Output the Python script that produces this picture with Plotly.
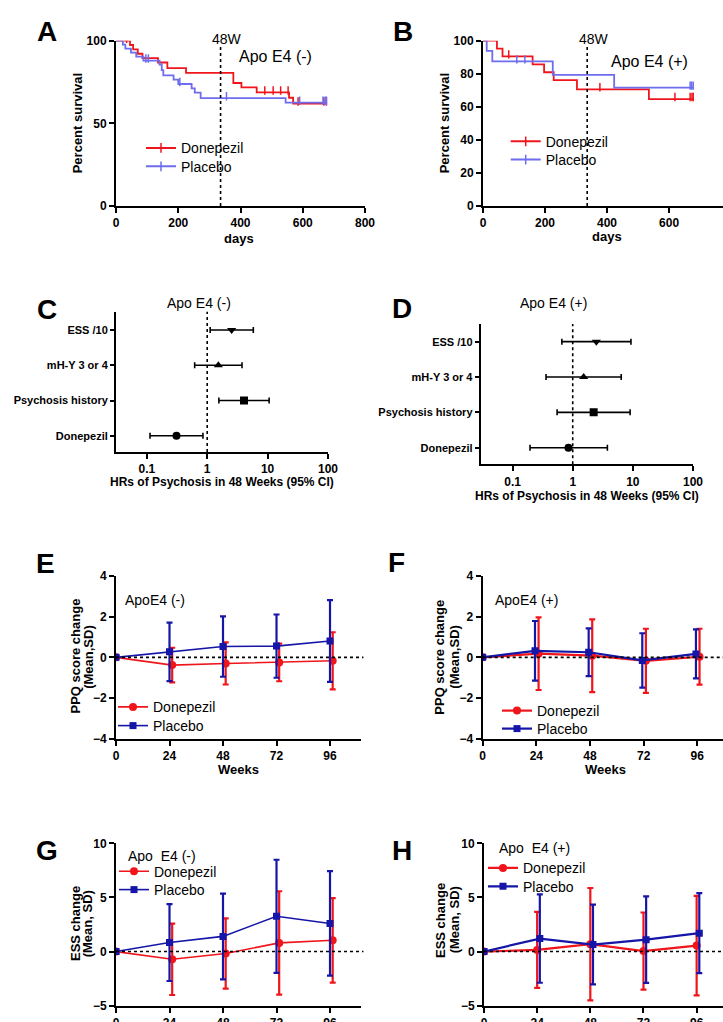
import plotly.graph_objects as go

W, H = 723, 1022
FONT = "Arial, 'Liberation Sans', sans-serif"

# ---------------- DATA ----------------
# Panel A: Kaplan-Meier, Apo E4 (-)
a_don_days = [0, 45, 55, 70, 85, 135, 165, 225, 377, 403, 452, 556, 569, 676]
a_don_pct = [100, 97.4, 94.7, 92.1, 89.5, 86.8, 83.4, 80.5, 74.4, 71.8, 68.7, 65.5, 62.0, 62.0]
a_don_cens = [34, 478, 505, 529, 553, 585, 668, 676]
a_pla_days = [0, 22, 30, 48, 65, 88, 140, 147, 152, 185, 200, 243, 253, 272, 545, 676]
a_pla_pct = [100, 97.6, 95.2, 92.8, 90.4, 88.0, 85.6, 82.2, 79.0, 76.4, 73.8, 71.2, 68.6, 65.2, 62.5, 62.5]
a_pla_cens = [96, 104, 205, 355, 590, 665, 672, 676]

# Panel B: Kaplan-Meier, Apo E4 (+)
b_don_days = [0, 45, 63, 160, 197, 228, 303, 535, 678]
b_don_pct = [100, 95.2, 90.5, 85.7, 80.9, 76.2, 70.6, 64.7, 64.7]
b_don_cens = [83, 377, 619, 668, 674, 678]
b_pla_days = [0, 12, 30, 225, 423, 678]
b_pla_pct = [100, 93.8, 87.5, 79.3, 71.6, 71.6]
b_pla_cens = [109, 135, 668, 673, 678]

week48_day = 336

# Panels C/D: hazard ratios
hr_labels = ["Donepezil", "Psychosis history", "mH-Y 3 or 4", "ESS /10"]
hr_symbols = ["circle", "square", "triangle-up", "triangle-down"]
c_hr = [0.31, 4.07, 1.53, 2.54]
c_lo = [0.113, 1.56, 0.62, 1.12]
c_hi = [0.85, 10.6, 3.77, 5.8]
d_hr = [0.85, 2.23, 1.52, 2.47]
d_lo = [0.195, 0.55, 0.36, 0.66]
d_hi = [3.77, 9.0, 6.4, 9.3]

# Panels E-H: change over weeks (mean, SD)
weeks = [0, 24, 48, 72, 96]
e_don_mean = [0, -0.38, -0.30, -0.25, -0.17]
e_don_sd = [None, 0.85, 1.03, 0.92, 1.40]
e_pla_mean = [0, 0.27, 0.53, 0.55, 0.80]
e_pla_sd = [None, 1.43, 1.48, 1.55, 2.00]

f_don_mean = [0, 0.18, 0.08, -0.17, 0.03]
f_don_sd = [None, 1.78, 1.78, 1.57, 1.37]
f_pla_mean = [0, 0.32, 0.25, -0.15, 0.17]
f_pla_sd = [None, 1.46, 1.17, 1.33, 1.20]

g_don_mean = [0, -0.71, -0.18, 0.80, 1.04]
g_don_sd = [None, 3.30, 3.25, 4.77, 3.90]
g_pla_mean = [0, 0.83, 1.40, 3.26, 2.60]
g_pla_sd = [None, 3.55, 3.96, 5.22, 4.83]

h_don_mean = [0, 0.15, 0.68, 0.05, 0.55]
h_don_sd = [None, 3.51, 5.19, 3.56, 4.60]
h_pla_mean = [0, 1.20, 0.65, 1.10, 1.70]
h_pla_sd = [None, 4.08, 3.68, 4.00, 3.70]

# ---------------- STYLE ----------------
RED = "#f0151b"
KM_BLUE = "#6d6dee"
DBLUE = "#1515a8"


def px(x):
    return x / W


def py(y):
    return 1 - y / H


def step_at(days, pct, t):
    v = pct[0]
    for d, p in zip(days, pct):
        if d <= t:
            v = p
    return v


fig = go.Figure()


def km(days, pct, cens, color, name, xa, ya, legend):
    fig.add_trace(go.Scatter(x=days, y=pct, mode="lines", line=dict(color=color, width=1.8, shape="hv"),
                             xaxis=xa, yaxis=ya, showlegend=False, hoverinfo="skip"))
    fig.add_trace(go.Scatter(x=cens, y=[step_at(days, pct, t) + 1.2 for t in cens], mode="markers",
                             marker=dict(symbol="line-ns", size=6, line=dict(color=color, width=1.5)),
                             xaxis=xa, yaxis=ya, showlegend=False, hoverinfo="skip"))
    fig.add_trace(go.Scatter(x=[None], y=[None], mode="lines+markers", name=name,
                             line=dict(color=color, width=2),
                             marker=dict(symbol="line-ns", size=7, line=dict(color=color, width=1.5)),
                             xaxis=xa, yaxis=ya, legend=legend))


km(a_don_days, a_don_pct, a_don_cens, RED, "Donepezil", "x", "y", "legend")
km(a_pla_days, a_pla_pct, a_pla_cens, KM_BLUE, "Placebo", "x", "y", "legend2")
km(b_don_days, b_don_pct, b_don_cens, RED, "Donepezil", "x2", "y2", "legend3")
km(b_pla_days, b_pla_pct, b_pla_cens, KM_BLUE, "Placebo", "x2", "y2", "legend4")


def forest(hr, lo, hi, xa, ya):
    for i, lab in enumerate(hr_labels):
        fig.add_trace(go.Scatter(
            x=[hr[i]], y=[i], mode="markers",
            marker=dict(symbol=hr_symbols[i], size=8, color="black"),
            error_x=dict(type="data", symmetric=False, array=[hi[i] - hr[i]], arrayminus=[hr[i] - lo[i]],
                         color="black", thickness=1.6, width=3),
            xaxis=xa, yaxis=ya, showlegend=False, hoverinfo="skip"))


forest(c_hr, c_lo, c_hi, "x3", "y3")
forest(d_hr, d_lo, d_hi, "x4", "y4")


def change(don_m, don_sd, pla_m, pla_sd, xa, ya, legs, don_shift, pla_shift, lw):
    xd = [w + (don_shift if w > 0 else 0) for w in weeks]
    xp = [w + (pla_shift if w > 0 else 0) for w in weeks]
    fig.add_trace(go.Scatter(x=xd, y=don_m, mode="lines+markers", name="Donepezil",
                             line=dict(color=RED, width=lw), marker=dict(symbol="circle", size=8, color=RED),
                             error_y=dict(type="data", array=don_sd, color=RED, thickness=2.2, width=3),
                             xaxis=xa, yaxis=ya, legend=legs[0], hoverinfo="skip"))
    fig.add_trace(go.Scatter(x=xp, y=pla_m, mode="lines+markers", name="Placebo",
                             line=dict(color=DBLUE, width=lw), marker=dict(symbol="square", size=7, color=DBLUE),
                             error_y=dict(type="data", array=pla_sd, color=DBLUE, thickness=2.2, width=3),
                             xaxis=xa, yaxis=ya, legend=legs[1], hoverinfo="skip"))


change(e_don_mean, e_don_sd, e_pla_mean, e_pla_sd, "x5", "y5", ("legend5", "legend6"), 1.2, 0, 1.6)
change(f_don_mean, f_don_sd, f_pla_mean, f_pla_sd, "x6", "y6", ("legend7", "legend8"), 1.0, -0.6, 2.2)
change(g_don_mean, g_don_sd, g_pla_mean, g_pla_sd, "x7", "y7", ("legend9", "legend10"), 1.2, 0, 1.6)
change(h_don_mean, h_don_sd, h_pla_mean, h_pla_sd, "x8", "y8", ("legend11", "legend12"), 0, 1.2, 2.2)

# ---------------- AXES ----------------


def axis(dom, rng, anchor, **kw):
    d = dict(domain=dom, range=rng, anchor=anchor, showline=True, linecolor="black", linewidth=2,
             ticks="outside", ticklen=5, tickwidth=2, tickcolor="black", showgrid=False, zeroline=False,
             tickfont=dict(family=FONT, size=12, color="black", weight="bold"), fixedrange=True)
    d.update(kw)
    return d


lay = {}
# A
lay["xaxis"] = axis([px(116), px(365)], [0, 800], "y", tickvals=[0, 200, 400, 600, 800])
lay["yaxis"] = axis([py(206), py(40.7)], [0, 100], "x", tickvals=[0, 50, 100])
# B
lay["xaxis2"] = axis([px(483), 1.0], [0, 774], "y2", tickvals=[0, 200, 400, 600, 800])
lay["yaxis2"] = axis([py(206), py(40.7)], [0, 100], "x2", tickvals=[0, 20, 40, 60, 80, 100])
# C
lay["xaxis3"] = axis([px(116), px(328)], [-1.51, 2], "y3", type="log",
                     tickvals=[0.1, 1, 10, 100], ticktext=["0.1", "1", "10", "100"])
lay["yaxis3"] = axis([py(452), py(311.7)], [-0.46, 3.52], "x3", tickvals=[0, 1, 2, 3], ticktext=hr_labels,
                     tickfont=dict(family=FONT, size=11, color="black", weight="bold"), ticklen=4)
# D
lay["xaxis4"] = axis([px(480.7), px(693)], [-1.53, 2], "y4", type="log",
                     tickvals=[0.1, 1, 10, 100], ticktext=["0.1", "1", "10", "100"])
lay["yaxis4"] = axis([py(464.3), py(324)], [-0.47, 3.5], "x4", tickvals=[0, 1, 2, 3], ticktext=hr_labels,
                     tickfont=dict(family=FONT, size=11, color="black", weight="bold"), ticklen=4)
# E
lay["xaxis5"] = axis([px(116), px(361)], [0, 109.9], "y5", tickvals=weeks)
lay["yaxis5"] = axis([py(739), py(575.7)], [-4, 4], "x5", tickvals=[-4, -2, 0, 2, 4])
# F
lay["xaxis6"] = axis([px(482.7), 1.0], [0, 107.5], "y6", tickvals=weeks)
lay["yaxis6"] = axis([py(739), py(575.7)], [-4, 4], "x6", tickvals=[-4, -2, 0, 2, 4])
# G
lay["xaxis7"] = axis([px(116), px(361)], [0, 109.9], "y7", tickvals=weeks)
lay["yaxis7"] = axis([py(1005.7), py(843.3)], [-5, 10], "x7", tickvals=[-5, 0, 5, 10])
# H
lay["xaxis8"] = axis([px(484), 1.0], [0, 107.9], "y8", tickvals=weeks)
lay["yaxis8"] = axis([py(1005.7), py(843.3)], [-5, 10], "x8", tickvals=[-5, 0, 5, 10])

# ---------------- LEGENDS (one item each, so spacing matches) ----------------


def leg(text_left, center, size=14):
    return dict(x=px(text_left - 40), y=py(center), xanchor="left", yanchor="middle", itemwidth=30,
                bgcolor="rgba(0,0,0,0)", font=dict(family=FONT, size=size, color="black"),
                itemclick=False, itemdoubleclick=False)


leg_pos = [(181, 148.3), (181, 166.7), (545.7, 141.7), (545.7, 160),
           (153, 707.3), (153, 726), (537, 711), (537, 729),
           (154, 871.7), (154, 890), (523, 868.3), (523, 886.7)]
for i, (tx, ty) in enumerate(leg_pos):
    key = "legend" if i == 0 else f"legend{i + 1}"
    lay[key] = leg(tx, ty)

# ---------------- SHAPES ----------------
dot = dict(color="black", width=1.6, dash="dot")
shapes = [
    dict(type="line", xref="x", yref="y", x0=week48_day, x1=week48_day, y0=0, y1=97, line=dot),
    dict(type="line", xref="x2", yref="y2", x0=week48_day, x1=week48_day, y0=0, y1=97, line=dot),
    dict(type="line", xref="x3", yref="y3 domain", x0=1, x1=1, y0=0, y1=1, line=dot),
    dict(type="line", xref="x4", yref="y4 domain", x0=1, x1=1, y0=0, y1=1, line=dot),
]
for i in (5, 6, 7, 8):
    shapes.append(dict(type="line", xref=f"x{i} domain", yref=f"y{i}", x0=0, x1=1.01, y0=0, y1=0, line=dot))

# ---------------- ANNOTATIONS ----------------
anns = []


def ann(text, x, y, size, bold=False, angle=0, xanchor="center"):
    anns.append(dict(text=f"<b>{text}</b>" if bold else text, x=px(x), y=py(y), xref="paper", yref="paper",
                     showarrow=False, xanchor=xanchor, yanchor="middle", textangle=angle,
                     font=dict(family=FONT, size=size, color="black")))


for letter, x, y in [("A", 46.7, 31.7), ("B", 402.7, 31.7), ("C", 46.7, 309.3), ("D", 401.7, 308.3),
                     ("E", 45.7, 563.3), ("F", 396, 562.7), ("G", 46.7, 850), ("H", 402.3, 850)]:
    ann(letter, x, y, 28, bold=True)

ann("Percent survival", 77.3, 123, 13, bold=True, angle=-90)
ann("Percent survival", 444.3, 123, 13, bold=True, angle=-90)
ann("days", 238.7, 238.3, 13, bold=True)
ann("days", 606.7, 237, 13, bold=True)
ann("48W", 227.3, 39.3, 14)
ann("48W", 594, 39.3, 14)
ann("Apo E4 (-)", 275, 56.7, 16)
ann("Apo E4 (+)", 649, 61.7, 16)

ann("Apo E4 (-)", 198.7, 303, 14)
ann("Apo E4 (+)", 553.3, 303.3, 14)
ann("HRs of Psychosis in 48 Weeks (95% CI)", 221.7, 481.7, 12, bold=True)
ann("HRs of Psychosis in 48 Weeks (95% CI)", 586.7, 496, 12, bold=True)

ann("PPQ score change", 75, 656.5, 13, bold=True, angle=-90)
ann("(Mean,SD)", 88.3, 656.5, 13, bold=True, angle=-90)
ann("PPQ score change", 440, 656.7, 13, bold=True, angle=-90)
ann("(Mean,SD)", 455, 656.7, 13, bold=True, angle=-90)
ann("Weeks", 238, 769, 13, bold=True)
ann("Weeks", 605, 769.3, 13, bold=True)
ann("ApoE4 (-)", 123, 600, 14, xanchor="left")
ann("ApoE4 (+)", 492.7, 600, 14, xanchor="left")

ann("ESS change", 75, 924, 13, bold=True, angle=-90)
ann("(Mean, SD)", 87.3, 924, 13, bold=True, angle=-90)
ann("ESS change", 440, 920, 13, bold=True, angle=-90)
ann("(Mean, SD)", 454.3, 920, 13, bold=True, angle=-90)
ann("Apo  E4 (-)", 126, 856, 14, xanchor="left")
ann("Apo  E4 (+)", 496.7, 848, 14, xanchor="left")

fig.update_layout(
    width=W, height=H, margin=dict(l=0, r=0, t=0, b=0, autoexpand=False),
    paper_bgcolor="white", plot_bgcolor="white",
    font=dict(family=FONT, color="black"),
    shapes=shapes, annotations=anns, **lay,
)

fig.write_html("out.html", config={"displayModeBar": False},
               post_script="document.body.style.margin='0px';document.body.style.overflow='hidden';")
